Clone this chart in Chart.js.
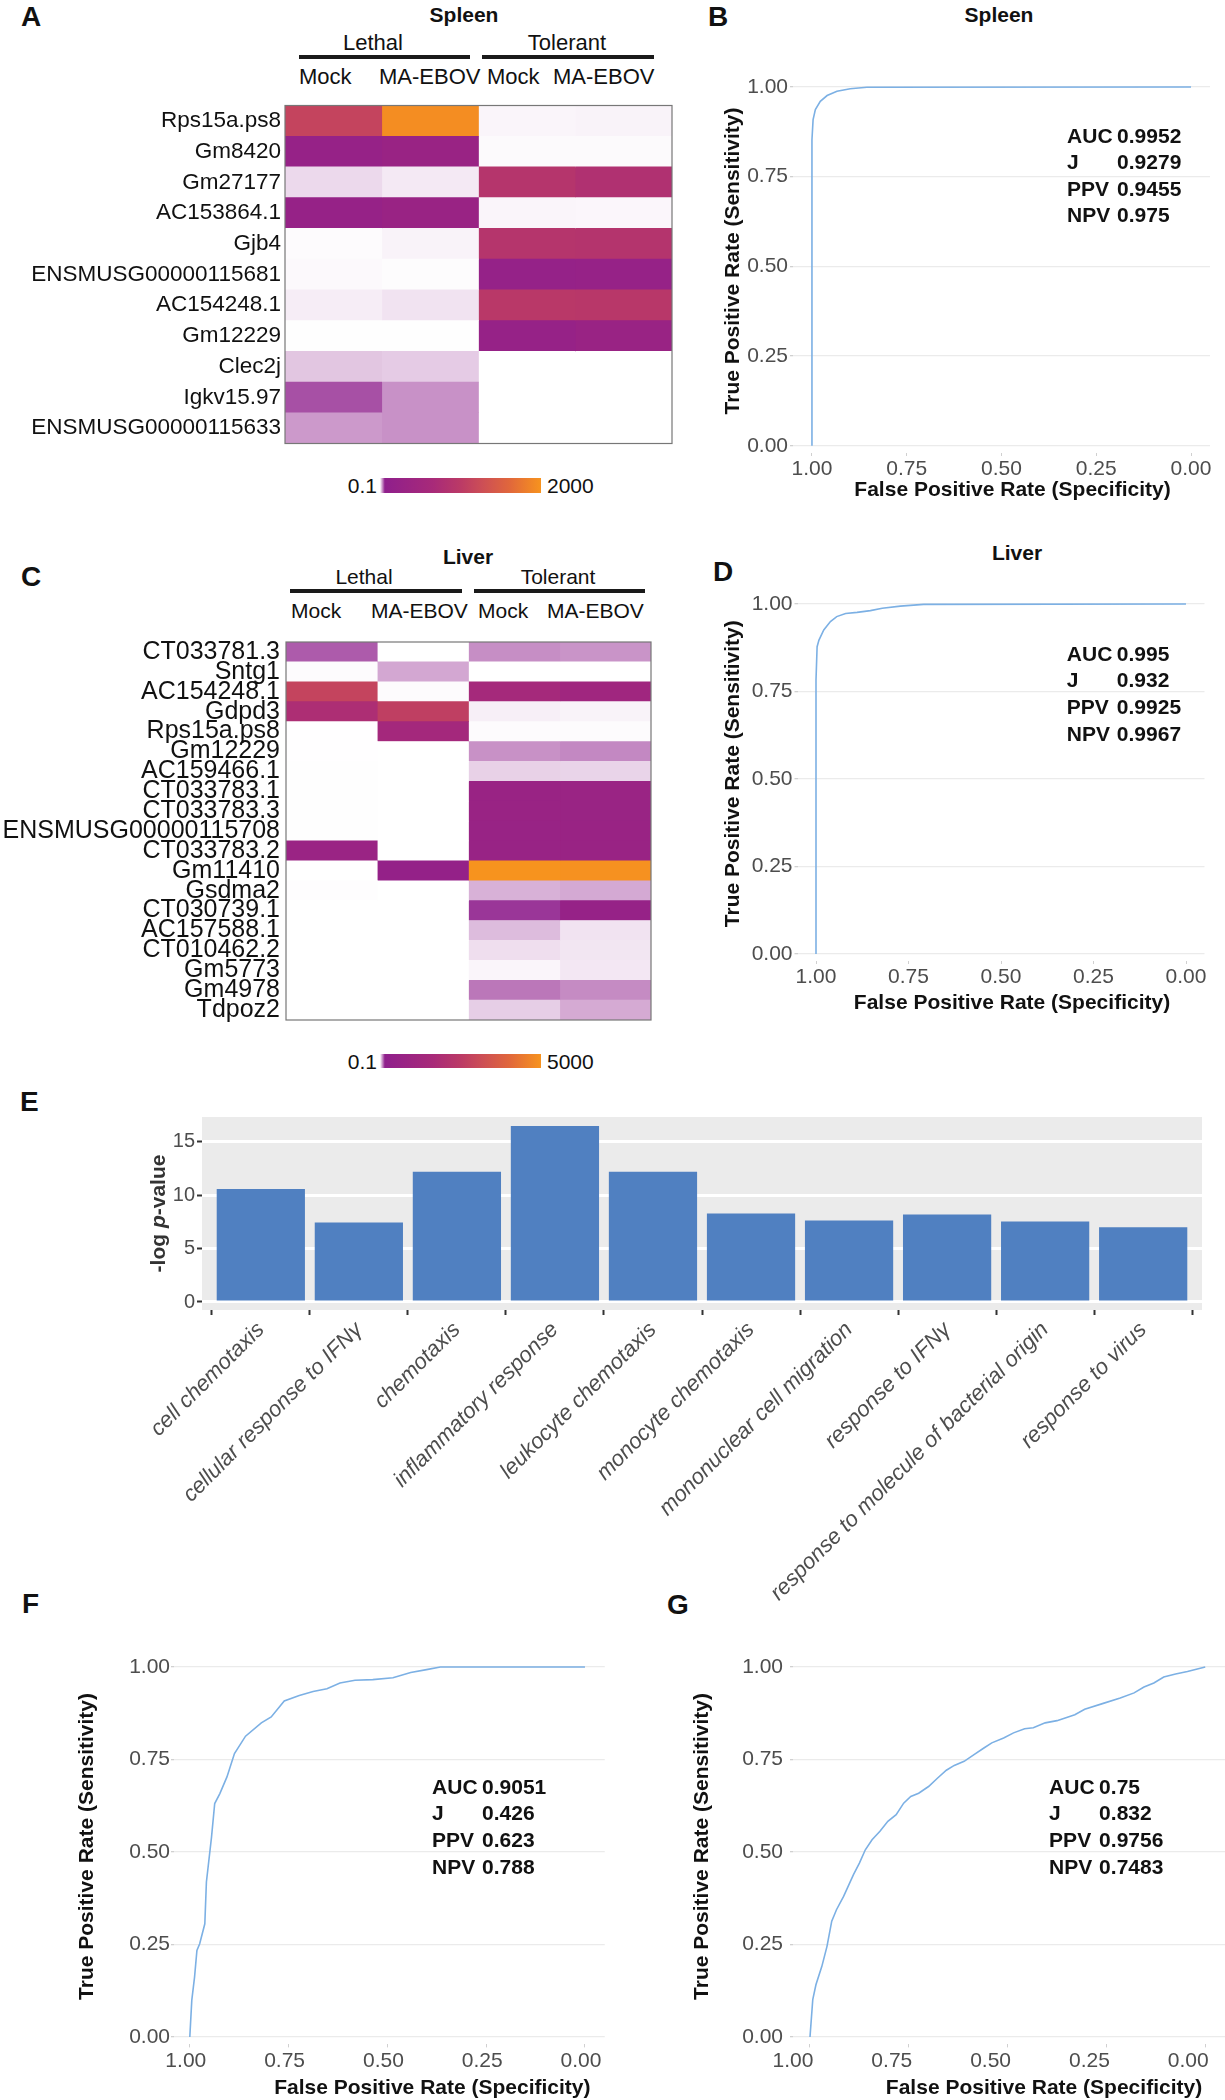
<!DOCTYPE html>
<html><head><meta charset="utf-8">
<script src="https://cdn.jsdelivr.net/npm/chart.js@4.4.1/dist/chart.umd.min.js"></script>
<style>
html,body{margin:0;padding:0;background:#fff;}
#fig{position:relative;width:1225px;height:2100px;overflow:hidden;background:#fff;font-family:"Liberation Sans",Arial,Helvetica,sans-serif;color:#111;}
canvas{position:absolute;}
.t{position:absolute;white-space:nowrap;line-height:1;}
.rule{position:absolute;background:#1a1a1a;height:4px;}
.cbar{position:absolute;}
</style></head><body><div id="fig"></div>
<script>
// ---------------- DATA ----------------
const heatConditions = ['Lethal Mock', 'Lethal MA-EBOV', 'Tolerant Mock', 'Tolerant MA-EBOV'];

const spleenGenes = ['Rps15a.ps8','Gm8420','Gm27177','AC153864.1','Gjb4','ENSMUSG00000115681','AC154248.1','Gm12229','Clec2j','Igkv15.97','ENSMUSG00000115633'];
const spleenRange = [0.1, 2000];
const spleenLethalMock     = [1140, 230, 10.2, 230, 1.1, 1.6, 4.8, 0.4, 15.5, 47, 27.3];
const spleenLethalEbov     = [1950, 300, 5.9, 300, 3.2, 1.0, 7.5, 0.4, 13.9, 29.5, 29.5];
const spleenTolerantMock   = [2.7, 1.5, 890, 2.7, 890, 200, 960, 230, 0.1, 0.1, 0.1];
const spleenTolerantEbov   = [3.2, 1.5, 800, 2.4, 870, 230, 940, 300, 0.1, 0.1, 0.1];

const liverGenes = ['CT033781.3','Sntg1','AC154248.1','Gdpd3','Rps15a.ps8','Gm12229','AC159466.1','CT033783.1','CT033783.3','ENSMUSG00000115708','CT033783.2','Gm11410','Gsdma2','CT030739.1','AC157588.1','CT010462.2','Gm5773','Gm4978','Tdpoz2'];
const liverRange = [0.1, 5000];
const liverLethalMock    = [110, 3, 2850, 1880, 0.5, 0.5, 0.8, 0.8, 0.8, 0.8, 800, 0.3, 1.5, 0.1, 0.1, 0.1, 0.1, 0.1, 0.1];
const liverLethalEbov    = [0.1, 59, 3, 2660, 1400, 0.1, 0.1, 0.1, 0.1, 0.1, 0.1, 450, 0.1, 0.1, 0.1, 0.1, 0.1, 0.1, 0.1];
const liverTolerantMock  = [76, 0.1, 1470, 10.7, 3, 74, 31, 750, 750, 700, 720, 5000, 52, 135, 45, 22, 7, 91, 33];
const liverTolerantEbov  = [72, 0.1, 1170, 8, 3, 80, 29, 800, 780, 760, 760, 4950, 58, 550, 19, 17, 16, 78, 57];

const rocTicks = [0, 0.25, 0.5, 0.75, 1];
const statLabels = ['AUC', 'J', 'PPV', 'NPV'];

const rocSpleenSpec = [1, 1, 0.997, 0.991, 0.978, 0.960, 0.934, 0.899, 0.855, 0];
const rocSpleenSens = [0, 0.853, 0.909, 0.937, 0.960, 0.976, 0.988, 0.995, 0.999, 1];
const spleenStats = ['0.9952', '0.9279', '0.9455', '0.975'];

const rocLiverSpec = [1, 1, 0.997, 0.992, 0.979, 0.961, 0.944, 0.920, 0.889, 0.853, 0.821, 0.772, 0.709, 0];
const rocLiverSens = [0, 0.783, 0.878, 0.897, 0.926, 0.950, 0.964, 0.973, 0.976, 0.981, 0.988, 0.994, 0.999, 1];
const liverStats = ['0.995', '0.932', '0.9925', '0.9967'];

const rocFSpec = [1.000,0.995,0.988,0.982,0.975,0.962,0.958,0.945,0.937,0.924,0.906,0.887,0.859,0.819,0.794,0.761,0.723,0.688,0.653,0.620,0.582,0.537,0.486,0.441,0.401,0.366,0.0];
const rocFSens = [0,0.099,0.162,0.234,0.252,0.306,0.419,0.541,0.631,0.658,0.703,0.766,0.813,0.849,0.865,0.908,0.923,0.934,0.941,0.957,0.964,0.966,0.971,0.985,0.993,1.0,1.0];
const fStats = ['0.9051', '0.426', '0.623', '0.788'];

const rocGSpec = [1.000,0.993,0.985,0.970,0.957,0.945,0.933,0.915,0.890,0.875,0.860,0.843,0.823,0.803,0.782,0.763,0.745,0.725,0.700,0.677,0.655,0.635,0.610,0.585,0.560,0.540,0.510,0.485,0.457,0.435,0.405,0.375,0.330,0.305,0.260,0.215,0.180,0.155,0.130,0.105,0.075,0.045,0.000];
const rocGSens = [0,0.101,0.141,0.191,0.245,0.313,0.344,0.380,0.439,0.470,0.506,0.533,0.556,0.583,0.601,0.632,0.650,0.659,0.677,0.700,0.721,0.734,0.745,0.763,0.781,0.795,0.808,0.822,0.833,0.836,0.849,0.855,0.871,0.886,0.901,0.916,0.930,0.946,0.957,0.973,0.981,0.988,1.000];
const gStats = ['0.75', '0.832', '0.9756', '0.7483'];

const goTerms = ['cell chemotaxis','cellular response to IFN\u03b3','chemotaxis','inflammatory response','leukocyte chemotaxis','monocyte chemotaxis','mononuclear cell migration','response to IFN\u03b3','response to molecule of bacterial origin','response to virus'];
const goNegLogP = [10.6, 7.45, 12.2, 16.5, 12.2, 8.3, 7.65, 8.2, 7.55, 7.0];
const goTicks = [0, 5, 10, 15];

// ---------------- HELPERS ----------------
const FONT = "'Liberation Sans', Arial, Helvetica, sans-serif";
Chart.defaults.font.family = FONT;
Chart.defaults.animation = false;
Chart.defaults.plugins.legend.display = false;
Chart.defaults.plugins.tooltip.enabled = false;

const fig = document.getElementById('fig');
function text(str, x, y, o = {}) {
  const size = o.size || 21;
  const d = document.createElement('div');
  d.className = 't';
  d.textContent = str;
  d.style.fontSize = size + 'px';
  d.style.fontWeight = o.bold ? 'bold' : 'normal';
  d.style.color = o.color || '#111';
  d.style.left = x + 'px';
  d.style.top = (y - 0.4885 * size) + 'px';
  if (o.align === 'center') d.style.transform = 'translateX(-50%)';
  if (o.align === 'right') d.style.transform = 'translateX(-100%)';
  fig.appendChild(d);
}
function rule(x1, x2, y) {
  const d = document.createElement('div');
  d.className = 'rule';
  d.style.left = x1 + 'px'; d.style.width = (x2 - x1) + 'px'; d.style.top = y + 'px';
  fig.appendChild(d);
}
function canvasAt(x, y, w, h) {
  const c = document.createElement('canvas');
  c.width = w; c.height = h;
  c.style.left = x + 'px'; c.style.top = y + 'px';
  c.style.width = w + 'px'; c.style.height = h + 'px';
  fig.appendChild(c);
  return c;
}

// colour palette (white -> purple -> red -> orange)
const paletteStops = [[0,'#ffffff'],[0.03,'#8f1f8c'],[0.33,'#a82a79'],[0.5,'#bb3a66'],[0.64,'#cd4f55'],[0.8,'#e0663c'],[1,'#f7931e']];
const hex2rgb = h => [1,3,5].map(i => parseInt(h.substr(i,2),16));
function colorFor(v, range) {
  let t = (v - range[0]) / (range[1] - range[0]);
  t = Math.max(0, Math.min(1, t));
  for (let i = 1; i < paletteStops.length; i++) {
    const [t1, c1] = paletteStops[i];
    const [t0, c0] = paletteStops[i-1];
    if (t <= t1) {
      const f = (t - t0) / (t1 - t0);
      const a = hex2rgb(c0), b = hex2rgb(c1);
      return 'rgb(' + a.map((x,k)=>Math.round(x + (b[k]-x)*f)).join(',') + ')';
    }
  }
  return paletteStops[paletteStops.length-1][1];
}
function colorbar(x, y, w, h) {
  const d = document.createElement('div');
  d.className = 'cbar';
  d.style.left = x+'px'; d.style.top = y+'px'; d.style.width = w+'px'; d.style.height = h+'px';
  d.style.background = 'linear-gradient(to right,' + paletteStops.map(s => s[1] + ' ' + (s[0]*100) + '%').join(',') + ')';
  fig.appendChild(d);
}

const frame = {
  id: 'frame',
  afterDatasetsDraw(chart) {
    const {ctx, chartArea: a} = chart;
    ctx.save(); ctx.strokeStyle = '#777'; ctx.lineWidth = 1.2;
    ctx.strokeRect(a.left, a.top, a.right - a.left, a.bottom - a.top);
    ctx.restore();
  }
};

function heatmap(box, genes, columns, range, fontSize, axisW, tickPad) {
  const c = canvasAt(box.x, box.y, box.w, box.h);
  return new Chart(c, {
    type: 'bar',
    data: {
      labels: genes,
      datasets: columns.map((vals, j) => ({
        label: heatConditions[j],
        data: vals.map(() => 1),
        backgroundColor: vals.map(v => colorFor(v, range)),
        borderWidth: 0, barPercentage: 1, categoryPercentage: 1
      }))
    },
    options: {
      indexAxis: 'y', responsive: false, animation: false,
      layout: {padding: {top: 1, bottom: 1, right: 1, left: 0}},
      scales: {
        x: {stacked: true, display: false, min: 0, max: columns.length},
        y: {stacked: true, grid: {display: false, drawTicks: false}, border: {display: false},
            ticks: {autoSkip: false, color: '#111', font: {size: fontSize}, padding: tickPad},
            afterFit: s => { s.width = axisW; }}
      }
    },
    plugins: [frame]
  });
}

function statsPlugin(o) {
  return {
    id: 'stats',
    afterDraw(chart) {
      const {ctx, scales: {x, y}} = chart;
      const px = x.getPixelForValue(o.x), py = y.getPixelForValue(o.y);
      ctx.save();
      ctx.font = 'bold 21px ' + FONT; ctx.fillStyle = '#111'; ctx.textBaseline = 'middle'; ctx.textAlign = 'left';
      statLabels.forEach((l, i) => {
        ctx.fillText(l, px, py + i * 26.6);
        ctx.fillText(o.values[i], px + 50, py + i * 26.6);
      });
      ctx.restore();
    }
  };
}
function xTitlePlugin(o) {
  return {
    id: 'xTitle',
    afterDraw(chart) {
      const {ctx, chartArea: a, scales: {x}} = chart;
      ctx.save();
      ctx.font = 'bold 21px ' + FONT; ctx.fillStyle = '#111'; ctx.textBaseline = 'middle'; ctx.textAlign = 'center';
      ctx.fillText('False Positive Rate (Specificity)', (a.left + a.right) / 2 + o.dx, x.bottom - o.fromBottom);
      ctx.restore();
    }
  };
}

function rocChart(box, spec, sens, o) {
  const c = canvasAt(box.x, box.y, box.w, box.h);
  return new Chart(c, {
    type: 'scatter',
    data: {datasets: [{data: spec.map((s, i) => ({x: s, y: sens[i]})), showLine: true, pointRadius: 0,
      borderColor: '#7cb0e4', borderWidth: 1.6, tension: 0}]},
    options: {
      responsive: false, animation: false,
      layout: {padding: {top: o.padTop, right: o.padRight, left: 0, bottom: 0}},
      scales: {
        x: {type: 'linear', reverse: true, min: o.xMin, max: o.xMax,
          afterBuildTicks: s => { s.ticks = rocTicks.map(v => ({value: v})); },
          afterFit: s => { s.height = o.xAxisH; },
          ticks: {callback: v => Number(v).toFixed(2), color: '#4d4d4d', font: {size: 21}, padding: 1,
            labelOffset: o.labelOffset || 0, maxRotation: 0, autoSkip: false},
          grid: {drawOnChartArea: false, drawTicks: true, tickLength: 3, tickColor: '#d0d0d0'},
          border: {display: false},
          title: {display: false}},
        y: {type: 'linear', min: o.yMin, max: o.yMax,
          afterBuildTicks: s => { s.ticks = rocTicks.map(v => ({value: v})); },
          afterFit: s => { s.width = o.yAxisW; },
          ticks: {callback: v => Number(v).toFixed(2), color: '#4d4d4d', font: {size: 21}, padding: o.yTickPad},
          grid: {color: '#ebebeb', lineWidth: 1.3, drawTicks: true, tickLength: 3, tickColor: '#d0d0d0'},
          border: {display: false},
          title: {display: true, text: 'True Positive Rate (Sensitivity)', color: '#111',
            font: {size: 21, weight: 'bold'}, padding: {top: o.yTitlePad, bottom: 0}}}
      }
    },
    plugins: [statsPlugin(o.stats), xTitlePlugin(o.xTitle)]
  });
}

// ---------------- PANEL LETTERS ----------------
text('A', 21, 16.5, {size: 28, bold: true});
text('B', 708, 16.5, {size: 28, bold: true});
text('C', 21, 577, {size: 28, bold: true});
text('D', 713, 572, {size: 28, bold: true});
text('E', 20, 1102, {size: 28, bold: true});
text('F', 22, 1604, {size: 28, bold: true});
text('G', 667, 1605, {size: 28, bold: true});

// ---------------- A: spleen heatmap ----------------
text('Spleen', 464, 14, {size: 21, bold: true, align: 'center'});
text('Lethal', 373, 43, {size: 22, align: 'center'});
text('Tolerant', 567, 43, {size: 22, align: 'center'});
rule(299, 470, 55); rule(482, 654, 55);
text('Mock', 299, 77, {size: 22}); text('MA-EBOV', 379, 77, {size: 22});
text('Mock', 487, 77, {size: 22}); text('MA-EBOV', 553, 77, {size: 22});
heatmap({x: 0, y: 88, w: 673, h: 373}, spleenGenes,
  [spleenLethalMock, spleenLethalEbov, spleenTolerantMock, spleenTolerantEbov], spleenRange, 22.5, 285, 4);
colorbar(380, 478, 161, 15);
text(String(spleenRange[0]), 377, 485.5, {size: 21, align: 'right'});
text(String(spleenRange[1]), 547, 485.5, {size: 21});

// ---------------- C: liver heatmap ----------------
text('Liver', 468, 556, {size: 21, bold: true, align: 'center'});
text('Lethal', 364, 576, {size: 21, align: 'center'});
text('Tolerant', 558, 576, {size: 21, align: 'center'});
rule(290, 462, 589); rule(474, 645, 589);
text('Mock', 291, 610, {size: 21}); text('MA-EBOV', 371, 610, {size: 21});
text('Mock', 478, 610, {size: 21}); text('MA-EBOV', 547, 610, {size: 21});
heatmap({x: 0, y: 621, w: 652, h: 420}, liverGenes,
  [liverLethalMock, liverLethalEbov, liverTolerantMock, liverTolerantEbov], liverRange, 25, 286, 6);
colorbar(380, 1054, 161, 14);
text(String(liverRange[0]), 377, 1061, {size: 21, align: 'right'});
text(String(liverRange[1]), 547, 1061, {size: 21});

// ---------------- B / D: ROC ----------------
text('Spleen', 999, 14, {size: 21, bold: true, align: 'center'});
rocChart({x: 700, y: 0, w: 525, h: 510}, rocSpleenSpec, rocSpleenSens, {
  xMin: -0.05, xMax: 1.05, yMin: -0.02, yMax: 1.05, padTop: 69, padRight: 15,
  yAxisW: 93, xAxisH: 57, yTitlePad: 20.4, yTickPad: 2,
  xTitle: {dx: 11, fromBottom: 20},
  stats: {x: 0.327, y: 0.861, values: spleenStats}});

text('Liver', 1017, 552, {size: 21, bold: true, align: 'center'});
rocChart({x: 700, y: 540, w: 525, h: 480}, rocLiverSpec, rocLiverSens, {
  xMin: -0.05, xMax: 1.05, yMin: -0.02, yMax: 1.05, padTop: 46.5, padRight: 20.5,
  yAxisW: 97.5, xAxisH: 59, yTitlePad: 20.4, yTickPad: 2,
  xTitle: {dx: 11, fromBottom: 17},
  stats: {x: 0.322, y: 0.854, values: liverStats}});

// ---------------- E: GO enrichment bars ----------------
const panelBg = {
  id: 'panelBg',
  beforeDraw(chart) {
    const {ctx, chartArea: a} = chart;
    ctx.save(); ctx.fillStyle = '#ebebeb';
    ctx.fillRect(a.left, a.top, a.right - a.left, a.bottom - a.top);
    ctx.restore();
  }
};
const yTitleE = {
  id: 'yTitleE',
  afterDraw(chart) {
    const {ctx, chartArea: a, scales: {y}} = chart;
    const parts = [['-log ', 'bold'], ['p', 'italic bold'], ['-value', 'bold']];
    ctx.save();
    ctx.translate(y.left + 159, (a.top + a.bottom) / 2);
    ctx.rotate(-Math.PI / 2);
    ctx.fillStyle = '#333'; ctx.textBaseline = 'middle'; ctx.textAlign = 'left';
    let total = 0;
    parts.forEach(p => { ctx.font = p[1] + ' 21px ' + FONT; total += ctx.measureText(p[0]).width; });
    let cx = -total / 2;
    parts.forEach(p => { ctx.font = p[1] + ' 21px ' + FONT; ctx.fillText(p[0], cx, 0); cx += ctx.measureText(p[0]).width; });
    ctx.restore();
  }
};
(function () {
  const c = canvasAt(0, 1085, 1225, 525);
  new Chart(c, {
    type: 'bar',
    data: {datasets: [{data: goNegLogP.map((v, i) => ({x: i, y: v})), backgroundColor: '#5080c1',
      borderWidth: 0, barPercentage: 0.9, categoryPercentage: 1}]},
    options: {
      responsive: false, animation: false,
      layout: {padding: {top: 32, right: 23, left: 0, bottom: 0}},
      scales: {
        x: {type: 'linear', min: -0.6, max: goTerms.length - 0.4, offset: false,
          afterBuildTicks: s => { s.ticks = goTerms.map((_, i) => ({value: i})); },
          afterFit: s => { s.height = 300; },
          ticks: {callback: v => goTerms[v], autoSkip: false, maxRotation: 45, minRotation: 45,
            color: '#4d4d4d', font: {size: 22, style: 'italic'}, padding: 2},
          grid: {drawOnChartArea: false, drawTicks: true, tickLength: 5, tickColor: '#333', tickWidth: 2},
          border: {display: false}},
        y: {min: -0.75, max: 17.34,
          afterBuildTicks: s => { s.ticks = goTicks.map(v => ({value: v})); },
          afterFit: s => { s.width = 202; },
          ticks: {color: '#4d4d4d', font: {size: 20}, padding: 2},
          grid: {color: '#ffffff', lineWidth: 3, drawTicks: true, tickLength: 5, tickColor: '#333', tickWidth: 2},
          border: {display: false}}
      }
    },
    plugins: [panelBg, yTitleE]
  });
})();

// ---------------- F / G: ROC ----------------
rocChart({x: 0, y: 1590, w: 620, h: 510}, rocFSpec, rocFSens, {
  xMin: -0.05, xMax: 1.04, yMin: -0.02, yMax: 1.05, padTop: 58.5, padRight: 15.25,
  yAxisW: 174, xAxisH: 55.6, yTitlePad: 74.4, yTickPad: 1, labelOffset: -4,
  xTitle: {dx: 43, fromBottom: 12},
  stats: {x: 0.387, y: 0.673, values: fStats}});

rocChart({x: 610, y: 1590, w: 615, h: 510}, rocGSpec, rocGSens, {
  xMin: -0.05, xMax: 1.043, yMin: -0.02, yMax: 1.05, padTop: 58.5, padRight: 0,
  yAxisW: 183, xAxisH: 55.6, yTitlePad: 80, yTickPad: 7, labelOffset: -17,
  xTitle: {dx: 35, fromBottom: 12},
  stats: {x: 0.395, y: 0.673, values: gStats}});
</script>
</body></html>
